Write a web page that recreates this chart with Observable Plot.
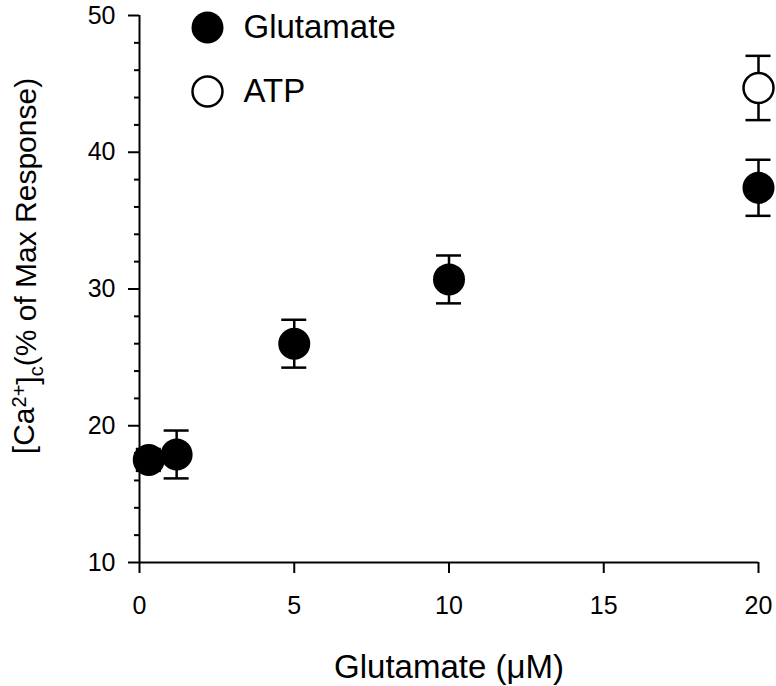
<!DOCTYPE html>
<html>
<head>
<meta charset="utf-8">
<script src="https://cdn.jsdelivr.net/npm/d3@7"></script>
<script src="https://cdn.jsdelivr.net/npm/@observablehq/plot@0.6"></script>
<style>
  html, body { margin: 0; padding: 0; background: #fff; }
  #chart svg { display: block; }
</style>
</head>
<body>
<div id="chart"></div>
<script>
// ---- data ----
const glutX   = [0.3, 1.2, 5, 10, 20];
const glutY   = [17.5, 17.9, 26.0, 30.7, 37.4];
const glutErr = [0.8, 1.75, 1.75, 1.75, 2.05];

const atpX   = [20];
const atpY   = [44.7];
const atpErr = [2.35];

const xTicks = [0, 5, 10, 15, 20];
const yTicks = [10, 20, 30, 40, 50];
const yMinorTicks = [12, 14, 16, 18, 22, 24, 26, 28, 32, 34, 36, 38, 42, 44, 46, 48];

const legendLabels = ["Glutamate", "ATP"];
const xTitle = "Glutamate (μM)";

// ---- tables ----
const glut = glutX.map((x, i) => ({x, y: glutY[i], lo: glutY[i] - glutErr[i], hi: glutY[i] + glutErr[i]}));
const atp  = atpX.map((x, i) => ({x, y: atpY[i], lo: atpY[i] - atpErr[i], hi: atpY[i] + atpErr[i]}));

const FONT = "'Liberation Sans', Arial, Helvetica, sans-serif";
const CAP = 12.5;

function errorMarks(data) {
  return [
    Plot.ruleX(data, {x: "x", y1: "lo", y2: "hi", stroke: "black", strokeWidth: 2.5}),
    Plot.ruleY(data, {y: "hi", x1: "x", x2: "x", insetLeft: -CAP, insetRight: -CAP, stroke: "black", strokeWidth: 2.5}),
    Plot.ruleY(data, {y: "lo", x1: "x", x2: "x", insetLeft: -CAP, insetRight: -CAP, stroke: "black", strokeWidth: 2.5})
  ];
}

const plot = Plot.plot({
  width: 776,
  height: 686,
  marginLeft: 139,
  marginRight: 18,
  marginTop: 15,
  marginBottom: 124,
  style: {fontFamily: FONT, fontSize: "25px", color: "black", background: "white", overflow: "visible"},
  x: {domain: [0, 20]},
  y: {domain: [10, 50]},
  marks: [
    Plot.axisY(yMinorTicks, {tickSize: 5, strokeWidth: 2, text: null, label: null}),
    Plot.axisY(yTicks, {tickSize: 11, tickPadding: 13, strokeWidth: 2, fontSize: 25, label: null}),
    Plot.axisX(xTicks, {tickSize: 11, tickPadding: 23, strokeWidth: 2, fontSize: 25, label: null}),
    Plot.ruleX([0], {stroke: "black", strokeWidth: 2}),
    Plot.ruleY([10], {stroke: "black", strokeWidth: 2}),
    ...errorMarks(glut),
    ...errorMarks(atp),
    Plot.dot(glut, {x: "x", y: "y", r: 16, fill: "black", stroke: "none"}),
    Plot.dot(atp, {x: "x", y: "y", r: 15, fill: "white", stroke: "black", strokeWidth: 2.5}),
    // legend
    Plot.dot([legendLabels[0]], {frameAnchor: "top-left", dx: 68, dy: 12, r: 16, fill: "black", stroke: "none"}),
    Plot.dot([legendLabels[1]], {frameAnchor: "top-left", dx: 68, dy: 76, r: 15, fill: "white", stroke: "black", strokeWidth: 2.5}),
    Plot.text([legendLabels[0]], {frameAnchor: "top-left", dx: 104, dy: 12, text: d => d, textAnchor: "start", lineAnchor: "middle", fontSize: 33, fill: "black"}),
    Plot.text([legendLabels[1]], {frameAnchor: "top-left", dx: 104, dy: 76, text: d => d, textAnchor: "start", lineAnchor: "middle", fontSize: 33, fill: "black"}),
    // x title
    Plot.text([xTitle], {frameAnchor: "bottom", dy: 115, text: d => d, lineAnchor: "bottom", fontSize: 33, fill: "black"})
  ]
});

document.getElementById("chart").appendChild(plot);

// y title with superscript / subscript
const svg = d3.select(plot);
const t = svg.append("text")
  .attr("transform", "translate(34,266) rotate(-90)")
  .attr("text-anchor", "middle")
  .attr("font-family", FONT)
  .attr("font-size", 30)
  .attr("fill", "black");
t.append("tspan").text("[Ca");
t.append("tspan").attr("dy", "-0.42em").attr("font-size", 20).text("2+");
t.append("tspan").attr("dy", "0.42em").text("]");
t.append("tspan").attr("dy", "0.25em").attr("font-size", 20).text("c");
t.append("tspan").attr("dy", "-0.25em").text("(% of Max Response)");
</script>
</body>
</html>
